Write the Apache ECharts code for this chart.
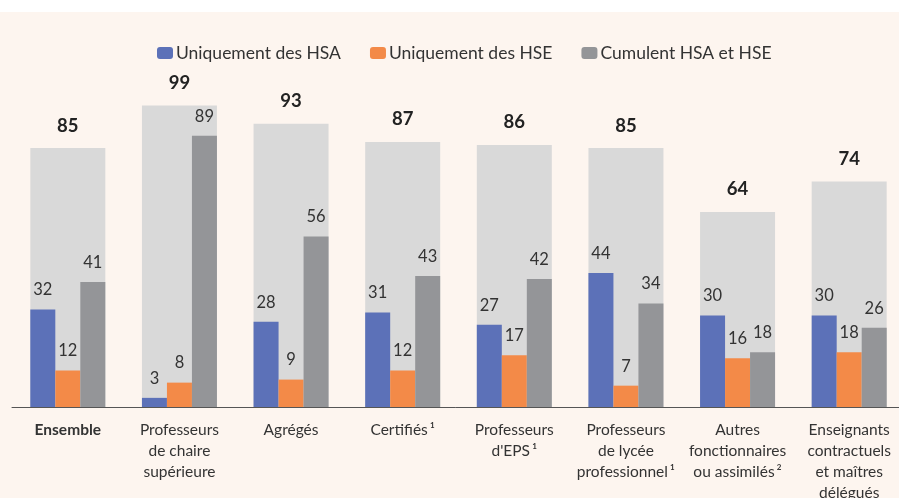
<!DOCTYPE html>
<html><head><meta charset="utf-8">
<script src="https://cdn.jsdelivr.net/npm/echarts@6/dist/echarts.min.js"></script>
<style>html,body{margin:0;padding:0;background:#fff}#c{width:899px;height:498px}</style>
</head><body><div id="c"></div>
<script>
const categories = ['Ensemble', 'Professeurs\nde chaire\nsupérieure', 'Agrégés', 'Certifiés\u2009¹', 'Professeurs\nd\'EPS\u2009¹', 'Professeurs\nde lycée\nprofessionnel\u2009¹', 'Autres\nfonctionnaires\nou assimilés\u2009²', 'Enseignants\ncontractuels\net maîtres\ndélégués'];
const totals = [85, 99, 93, 87, 86, 85, 64, 74];
const hsaOnly = [32, 3, 28, 31, 27, 44, 30, 30];
const hseOnly = [12, 8, 9, 12, 17, 7, 16, 18];
const both = [41, 89, 56, 43, 42, 34, 18, 26];
const seriesNames = ['Uniquement des HSA', 'Uniquement des HSE', 'Cumulent HSA et HSE'];

const FONT = 'Lato';
const chart = echarts.init(document.getElementById('c'));
const valLabel = {show: true, position: 'top', distance: 11, fontFamily: FONT, fontSize: 16.5, color: '#333'};
chart.setOption({
  backgroundColor: '#fff',
  animation: false,
  textStyle: {fontFamily: FONT},
  graphic: [{type: 'rect', shape: {x: 0, y: 12, width: 899, height: 486}, style: {fill: '#fdf5ef'}, z: -10, silent: true}],
  legend: {
    data: seriesNames, top: 39, left: 152, itemWidth: 16, itemHeight: 12, itemGap: 29,
    textStyle: {fontFamily: FONT, fontSize: 17.5, color: '#333', padding: [0, 0, 0, -2]}
  },
  grid: {left: 12, right: -6, top: 41.4, bottom: 91, containLabel: false, outerBoundsMode: 'none'},
  xAxis: [
    {type: 'category', data: categories, axisTick: {show: false},
     axisLine: {lineStyle: {color: '#555', width: 1}},
     axisLabel: {interval: 0, margin: 12, fontFamily: FONT, fontSize: 15.5, color: '#333', lineHeight: 21,
       formatter: (v, i) => i === 0 ? '{b|' + v + '}' : v, rich: {b: {fontWeight: 'bold', fontSize: 15.5, fontFamily: FONT, color: '#333'}}}},
    {type: 'category', data: categories, show: false}
  ],
  yAxis: {type: 'value', min: 0, max: 120, show: false, splitLine: {show: false}},
  series: [
    {type: 'bar', xAxisIndex: 0, data: totals, barWidth: 75, itemStyle: {color: '#d9d9d9'}, z: 1,
     label: {show: true, position: 'top', distance: 13, fontFamily: FONT, fontSize: 18.5, fontWeight: 'bold', color: '#222'}},
    {name: seriesNames[0], type: 'bar', xAxisIndex: 1, data: hsaOnly, barWidth: 25, barGap: '0%', itemStyle: {color: '#5c71b8'}, label: valLabel, z: 3},
    {name: seriesNames[1], type: 'bar', xAxisIndex: 1, data: hseOnly, barWidth: 25, barGap: '0%', itemStyle: {color: '#f38a48'}, label: valLabel, z: 3},
    {name: seriesNames[2], type: 'bar', xAxisIndex: 1, data: both, barWidth: 25, barGap: '0%', itemStyle: {color: '#949598'}, label: valLabel, z: 3}
  ]
});
</script></body></html>
